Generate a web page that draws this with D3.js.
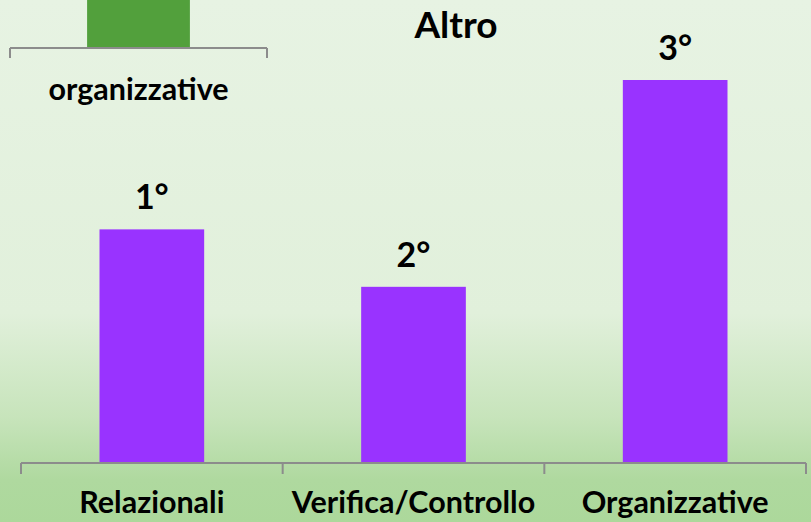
<!DOCTYPE html>
<html><head><meta charset="utf-8">
<script src="https://cdn.jsdelivr.net/npm/d3@7"></script>
<style>html,body{margin:0;padding:0;overflow:hidden;}svg{display:block;}</style>
</head><body>
<svg id="chart" width="811" height="522"></svg>
<script>
const categories = ["Relazionali", "Verifica/Controllo", "Organizzative"];
const values = [61, 46, 100];
const rankLabels = ["1°", "2°", "3°"];
const prevCategories = ["organizzative"];
const prevValues = [100];
const prevTitle = "Altro";

const W = 811, H = 522;
const svg = d3.select("#chart");
const FONT = "Lato, 'Open Sans', sans-serif";

const defs = svg.append("defs");
const g = defs.append("linearGradient").attr("id","bg").attr("x1",0).attr("y1",0).attr("x2",0).attr("y2",1);
[[0,"#e7f3e3"],[0.6,"#e1f0db"],[0.8,"#c7e4bb"],[0.92,"#afd99f"],[1,"#acd89b"]].forEach(([o,c])=>g.append("stop").attr("offset",o).attr("stop-color",c));
svg.append("rect").attr("width",W).attr("height",H).attr("fill","url(#bg)");

// Previous (cropped) chart at top-left
const px = d3.scaleBand().domain(prevCategories).range([10, 267]).paddingInner(0.6).paddingOuter(0.3);
const py = d3.scaleLinear().domain([0, 100]).range([48, -100]);
svg.selectAll(".pbar").data(prevValues).join("rect")
  .attr("x",(d,i)=>px(prevCategories[i])).attr("width",px.bandwidth())
  .attr("y",d=>py(d)).attr("height",d=>py(0)-py(d)).attr("fill","#52a03c");
const paxis = svg.append("g").attr("stroke","#8c8c8c").attr("stroke-width",2).attr("fill","none");
paxis.append("line").attr("x1",px.range()[0]).attr("x2",px.range()[1]).attr("y1",48).attr("y2",48);
d3.range(prevCategories.length+1).forEach(i=>{
  const xx = px.range()[0] + i*px.step();
  paxis.append("line").attr("x1",xx).attr("x2",xx).attr("y1",48).attr("y2",58);
});
svg.selectAll(".plab").data(prevCategories).join("text")
  .attr("x",d=>px(d)+px.bandwidth()/2).attr("y",100)
  .attr("text-anchor","middle").attr("font-family",FONT).attr("font-weight","bold")
  .attr("font-size",30.5).attr("fill","#000").text(d=>d);
svg.append("text").attr("x",456).attr("y",38).attr("text-anchor","middle")
  .attr("font-family",FONT).attr("font-weight","bold").attr("font-size",37).attr("fill","#000").text(prevTitle);

// Main chart
const x = d3.scaleBand().domain(categories).range([21, 806]).paddingInner(0.6).paddingOuter(0.3);
const y = d3.scaleLinear().domain([0, 100]).range([463, 80]);

svg.selectAll(".bar").data(values).join("rect")
  .attr("x",(d,i)=>x(categories[i])).attr("width",x.bandwidth())
  .attr("y",d=>y(d)).attr("height",d=>y(0)-y(d)).attr("fill","#9933ff");

const axis = svg.append("g").attr("stroke","#8c8c8c").attr("stroke-width",2).attr("fill","none");
axis.append("line").attr("x1",x.range()[0]).attr("x2",x.range()[1]).attr("y1",y(0)).attr("y2",y(0));
d3.range(categories.length+1).forEach(i=>{
  const xx = x.range()[0] + i*x.step();
  axis.append("line").attr("x1",xx).attr("x2",xx).attr("y1",y(0)).attr("y2",y(0)+11);
});

svg.selectAll(".rank").data(values).join("text")
  .attr("x",(d,i)=>x(categories[i])+x.bandwidth()/2).attr("y",d=>y(d)-20)
  .attr("text-anchor","middle").attr("font-family",FONT).attr("font-weight","bold")
  .attr("font-size",34).attr("fill","#000").text((d,i)=>rankLabels[i]);

svg.selectAll(".cat").data(categories).join("text")
  .attr("x",d=>x(d)+x.bandwidth()/2).attr("y",513)
  .attr("text-anchor","middle").attr("font-family",FONT).attr("font-weight","bold")
  .attr("font-size",30.5).attr("fill","#000").text(d=>d);
</script>
</body></html>
